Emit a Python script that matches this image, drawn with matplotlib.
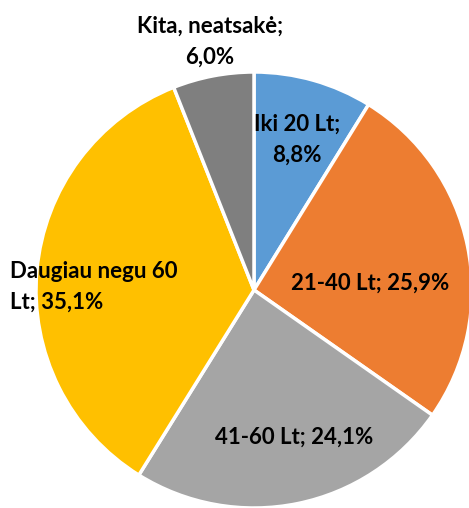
import matplotlib
matplotlib.use("Agg")
import matplotlib.pyplot as plt

categories = ["Iki 20 Lt", "21-40 Lt", "41-60 Lt", "Daugiau negu 60 Lt", "Kita, neatsakė"]
values = [8.8, 25.9, 24.1, 35.1, 6.0]
colors = ["#5B9BD5", "#ED7D31", "#A5A5A5", "#FFC000", "#7F7F7F"]
labels = ["Iki 20 Lt;\n8,8%", "21-40 Lt; 25,9%", "41-60 Lt; 24,1%",
          "Daugiau negu 60\nLt; 35,1%", "Kita, neatsakė;\n6,0%"]

W, H = 469, 508
fig = plt.figure(figsize=(W / 100, H / 100), dpi=100)
ax = fig.add_axes([0, 0, 1, 1])
ax.set_xlim(0, W)
ax.set_ylim(0, H)
ax.set_aspect("equal")
ax.axis("off")

cx, cy, r = 254, H - 290, 218
ax.pie(values, colors=colors, startangle=90, counterclock=False,
       center=(cx, cy), radius=r, frame=True,
       wedgeprops=dict(edgecolor="white", linewidth=2.5))
ax.set_xlim(0, W)
ax.set_ylim(0, H)
ax.axis("off")

font = dict(family=["Lato", "DejaVu Sans"], fontweight="bold", fontsize=16, color="black")
pos = [(297, 140, "center"), (370, 283, "center"), (294, 437, "center"),
       (10, 287, "left"), (210, 42, "center")]
for lab, (x, y, ha) in zip(labels, pos):
    ax.text(x, H - y, lab, ha=ha, va="center", multialignment=ha,
            linespacing=1.6, **font)

fig.savefig("out.png", dpi=100)
